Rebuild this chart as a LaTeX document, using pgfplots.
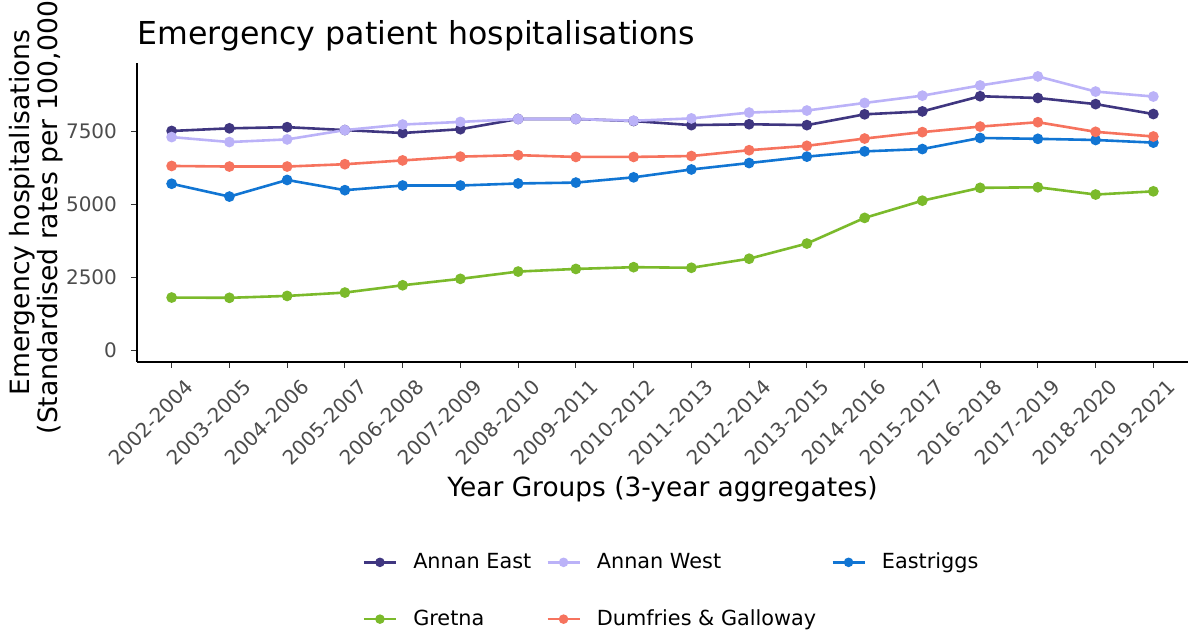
\documentclass[border=0pt]{standalone}
\usepackage{fontspec}
\setmainfont{DejaVu Sans}
\usepackage{pgfplots}
\usepackage{pgfplotstable}
\pgfplotsset{compat=1.18}

\definecolor{annaneast}{HTML}{3F3680}
\definecolor{annanwest}{HTML}{BBB2F8}
\definecolor{eastriggs}{HTML}{1175D3}
\definecolor{gretna}{HTML}{7BBA2B}
\definecolor{dandg}{HTML}{F6735E}

% rates per 100,000, one row per 3-year group (0 = 2002-2004 ... 17 = 2019-2021)
\pgfplotstableread{
x  east  west  eastriggs gretna dg
0  7520  7310  5710  1810  6320
1  7610  7140  5270  1800  6300
2  7650  7230  5840  1865  6300
3  7550  7550  5490  1980  6380
4  7450  7740  5650  2230  6510
5  7580  7830  5650  2450  6640
6  7930  7930  5720  2700  6690
7  7930  7930  5750  2790  6630
8  7860  7870  5930  2850  6630
9  7720  7950  6200  2830  6660
10 7750  8150  6420  3140  6860
11 7720  8220  6640  3660  7010
12 8090  8480  6820  4540  7260
13 8190  8730  6900  5130  7480
14 8710  9080  7280  5570  7670
15 8650  9390  7250  5590  7820
16 8440  8870  7210  5340  7490
17 8100  8700  7120  5450  7330
}\hosp

\begin{document}
\begin{tikzpicture}
\begin{axis}[
  at={(0pt,0pt)}, anchor=south west,
  scale only axis,
  width=525.5pt, height=149.5pt,
  xmin=-0.6, xmax=17.6,
  ymin=-400, ymax=9850,
  axis x line*=bottom, axis y line*=left,
  axis line style={line width=0.7pt, black},
  xtick={0,...,17},
  xticklabels={2002-2004,2003-2005,2004-2006,2005-2007,2006-2008,2007-2009,
    2008-2010,2009-2011,2010-2012,2011-2013,2012-2014,2013-2015,2014-2016,
    2015-2017,2016-2018,2017-2019,2018-2020,2019-2021},
  ytick={0,2500,5000,7500},
  yticklabels={0,2500,5000,7500},
  tick align=outside,
  major tick length=3pt,
  tick style={line width=0.6pt, black!80},
  ticklabel style={font=\fontsize{10}{12}\selectfont, text=black!70},
  xticklabel style={rotate=45, anchor=north east, inner sep=1pt,
    xshift=2pt, yshift=-7pt},
  yticklabel style={xshift=-3.5pt},
  title={Emergency patient hospitalisations},
  title style={at={(axis description cs:0,1)}, anchor=base west, inner sep=0pt,
    yshift=3pt, font=\fontsize{15.8}{18}\selectfont},
  xlabel={Year Groups (3-year aggregates)},
  xlabel style={at={(axis description cs:0.5,0)}, anchor=base, yshift=-67.5pt,
    font=\fontsize{13.2}{16}\selectfont},
  ylabel={Emergency hospitalisations\\(Standardised rates per 100,000)},
  ylabel style={at={(axis description cs:0,0.5)}, anchor=center,
    yshift=50.25pt, align=center, font=\fontsize{13.3}{12.4}\selectfont},
  legend columns=3,
  legend cell align=left,
  legend style={at={(axis description cs:0.5095,-0.765)}, anchor=center,
    draw=none, fill=none, font=\fontsize{10.4}{12.5}\selectfont, row sep=15pt,
    /tikz/every odd column/.append style={column sep=6pt},
    /tikz/every even column/.append style={column sep=5.5pt}},
  legend image code/.code={
    \draw[#1, mark repeat=2, mark phase=2, mark size=1.7pt]
      plot coordinates {(0pt,0pt) (8pt,0pt) (16pt,0pt)};},
  every axis plot/.append style={line width=1.3pt, mark=*, mark size=2pt},
]
  \addplot[annaneast] table[x=x, y=east] {\hosp};
  \addlegendentry{Annan East}
  \addplot[annanwest] table[x=x, y=west] {\hosp};
  \addlegendentry{Annan West}
  \addplot[eastriggs] table[x=x, y=eastriggs] {\hosp};
  \addlegendentry{Eastriggs}
  \addplot[gretna] table[x=x, y=gretna] {\hosp};
  \addlegendentry{Gretna}
  \addplot[dandg] table[x=x, y=dg] {\hosp};
  \addlegendentry{Dumfries \& Galloway}
\end{axis}
\pgfresetboundingbox
\useasboundingbox (-68.5pt,-134pt) rectangle (526pt,181pt);
\end{tikzpicture}
\end{document}
